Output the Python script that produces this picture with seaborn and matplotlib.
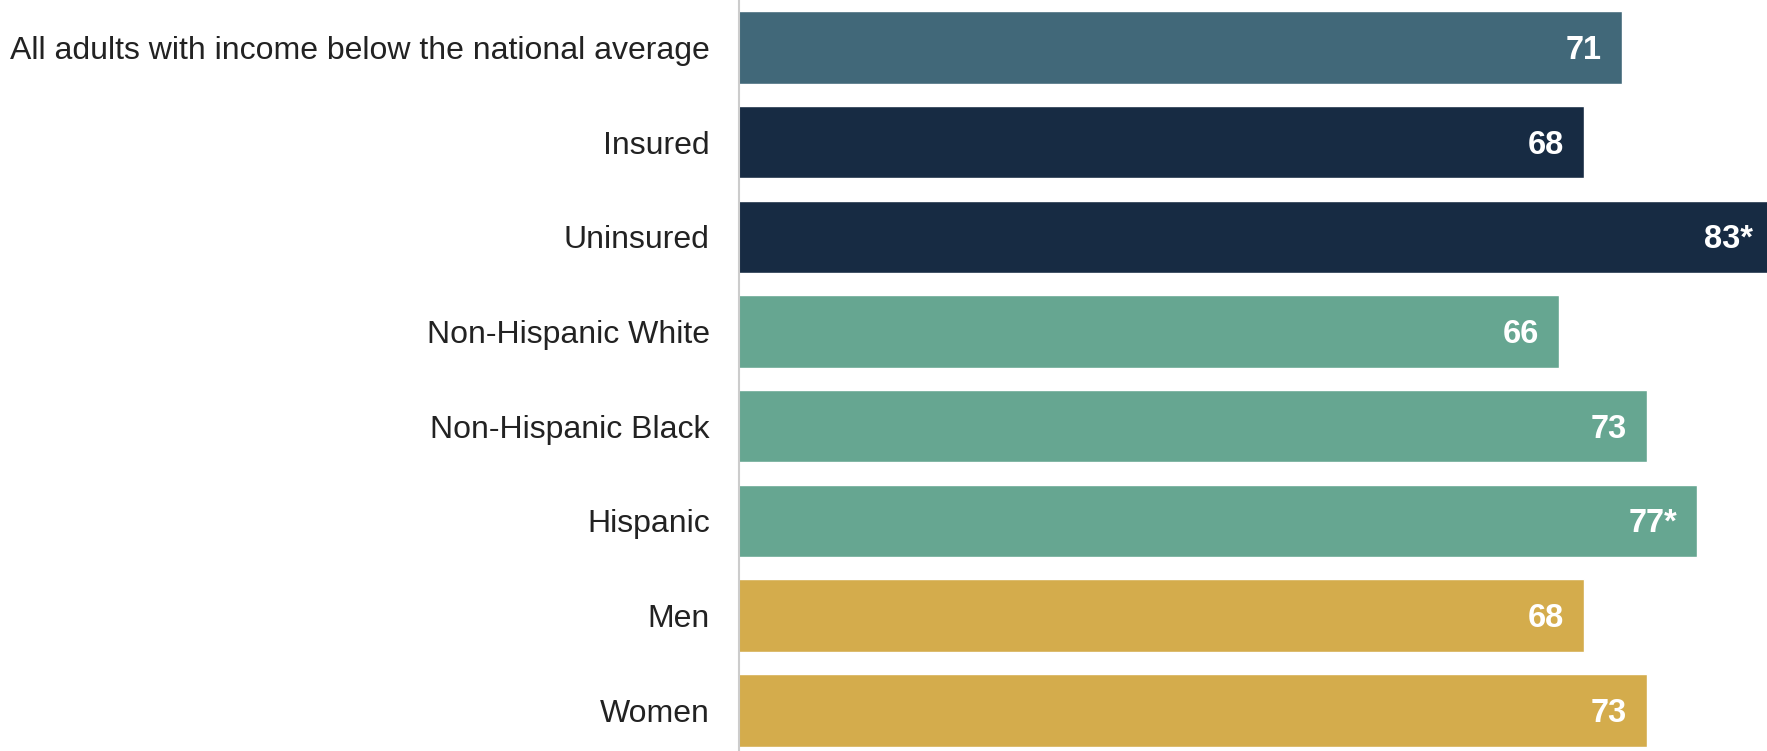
import matplotlib
matplotlib.use("Agg")
import matplotlib.pyplot as plt
import seaborn as sns

# Share of adults (%) by group
groups = [
    "All adults with income below the national average",
    "Insured",
    "Uninsured",
    "Non-Hispanic White",
    "Non-Hispanic Black",
    "Hispanic",
    "Men",
    "Women",
]
values = [71, 68, 83, 66, 73, 77, 68, 73]
value_labels = ["71", "68", "83*", "66", "73", "77*", "68", "73"]
colors = ["#416879", "#172B43", "#172B43", "#66A691", "#66A691", "#66A691",
          "#D4AC4C", "#D4AC4C"]

sns.set_theme(style="white")
plt.rcParams["font.family"] = ["Liberation Sans", "DejaVu Sans"]

fig = plt.figure(figsize=(17.67, 7.51), dpi=100)
ax = fig.add_axes([739 / 1767, 0.0, 1 - 739 / 1767, 1.0])

sns.barplot(x=values, y=groups, hue=groups, palette=colors, legend=False,
            orient="h", width=0.765, saturation=1, ax=ax)

ax.set_xlim(0.76, 82.55)
ax.set_ylim(7.43, -0.5)

for i, (v, lab) in enumerate(zip(values, value_labels)):
    ax.annotate(lab, xy=(v, i), xytext=(-20, -3), textcoords="offset pixels",
                ha="right", va="center", color="white", fontweight="bold",
                fontsize=23.5, annotation_clip=False)

for side in ["top", "right", "bottom"]:
    ax.spines[side].set_visible(False)
ax.spines["left"].set_color("#cccccc")
ax.spines["left"].set_linewidth(1.5)

ax.set_xticks([])
ax.set_xlabel("")
ax.set_ylabel("")
ax.tick_params(axis="y", length=0, pad=21, labelsize=23, labelcolor="#222222")

fig.savefig("out.png", dpi=100, facecolor="white")
